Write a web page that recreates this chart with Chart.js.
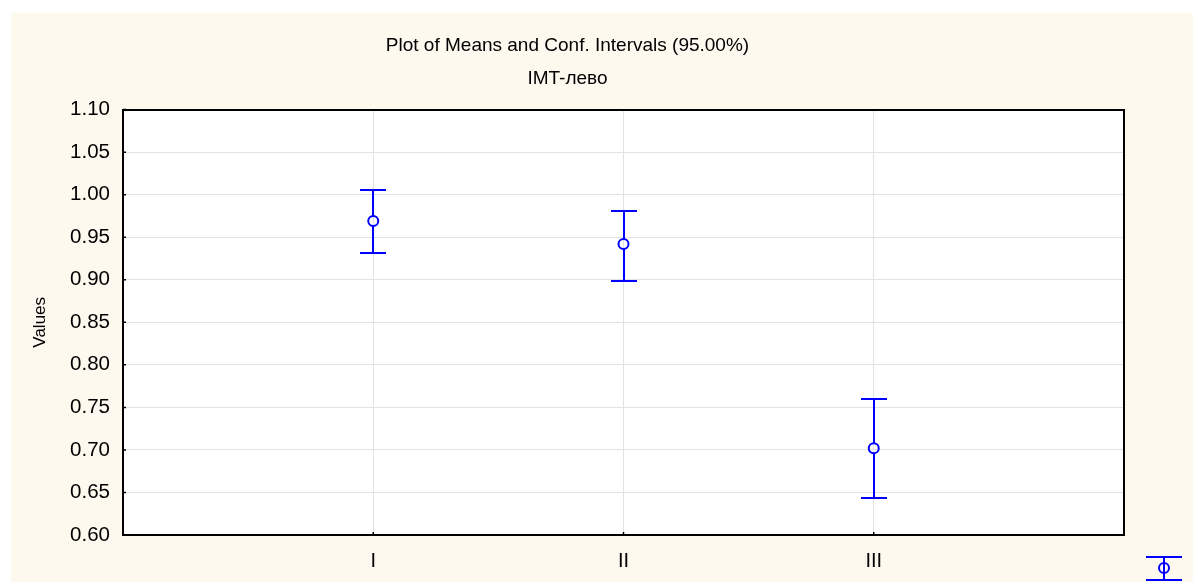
<!DOCTYPE html>
<html>
<head>
<meta charset="utf-8">
<script src="https://cdn.jsdelivr.net/npm/chart.js@4.4.0/dist/chart.umd.min.js"></script>
<style>
  html, body { margin: 0; padding: 0; background: #ffffff; }
  #wrap {
    position: absolute; left: 11px; top: 13px;
    width: 1182px; height: 569px;
    background: #fdf9ef;
  }
  canvas { display: block; }
</style>
</head>
<body>
<div id="wrap"><canvas id="meansChart" width="1182" height="569"></canvas></div>
<script>
// groups and their means with 95% confidence limits
const categories = ['I', 'II', 'III'];
const means = [0.969, 0.942, 0.702];
const lower = [0.931, 0.899, 0.6435];
const upper = [1.006, 0.981, 0.760];
const yTicks = [0.60, 0.65, 0.70, 0.75, 0.80, 0.85, 0.90, 0.95, 1.00, 1.05, 1.10];

const BLUE = '#0000ff';
const FONT = 'Liberation Sans, Arial, sans-serif';

// white plot area, black frame, whiskers and legend key
const errorBars = {
  id: 'errorBars',
  beforeDraw(chart) {
    const { ctx, chartArea: a } = chart;
    ctx.save();
    ctx.fillStyle = '#ffffff';
    ctx.fillRect(a.left, a.top, a.right - a.left, a.bottom - a.top);
    ctx.restore();
  },
  afterDatasetsDraw(chart) {
    const { ctx, scales } = chart;
    const xs = scales.x, ys = scales.y;
    ctx.save();
    ctx.strokeStyle = BLUE;
    ctx.lineWidth = 2;
    categories.forEach((c, i) => {
      const x = Math.round(xs.getPixelForValue(i + 1));
      const yl = Math.round(ys.getPixelForValue(lower[i]));
      const yu = Math.round(ys.getPixelForValue(upper[i]));
      const ym = ys.getPixelForValue(means[i]);
      ctx.beginPath();
      ctx.moveTo(x, yu); ctx.lineTo(x, ym - 5);
      ctx.moveTo(x, ym + 5); ctx.lineTo(x, yl);
      ctx.moveTo(x - 13, yu); ctx.lineTo(x + 13, yu);
      ctx.moveTo(x - 13, yl); ctx.lineTo(x + 13, yl);
      ctx.stroke();
    });
    ctx.restore();
  },
  afterDraw(chart) {
    const { ctx, chartArea: a, scales } = chart;
    ctx.save();
    ctx.strokeStyle = '#000000';
    ctx.lineWidth = 2;
    ctx.strokeRect(Math.round(a.left), Math.round(a.top),
      Math.round(a.right - a.left), Math.round(a.bottom - a.top));
    // short inner tick marks
    ctx.lineWidth = 1.5;
    ctx.beginPath();
    yTicks.forEach(v => {
      const y = scales.y.getPixelForValue(v);
      ctx.moveTo(a.left, y); ctx.lineTo(a.left + 3, y);
    });
    categories.forEach((c, i) => {
      const x = scales.x.getPixelForValue(i + 1);
      ctx.moveTo(x, a.bottom); ctx.lineTo(x, a.bottom - 3);
    });
    ctx.stroke();
    // legend key
    const lx = Math.round(a.right + 40), ly = Math.round(a.bottom + 33);
    ctx.strokeStyle = BLUE;
    ctx.lineWidth = 2;
    ctx.beginPath();
    ctx.moveTo(lx - 18, ly - 11); ctx.lineTo(lx + 18, ly - 11);
    ctx.moveTo(lx - 18, ly + 12); ctx.lineTo(lx + 18, ly + 12);
    ctx.moveTo(lx, ly - 11); ctx.lineTo(lx, ly + 12);
    ctx.stroke();
    ctx.beginPath();
    ctx.arc(lx, ly, 5, 0, Math.PI * 2);
    ctx.stroke();
    ctx.restore();
  }
};

new Chart(document.getElementById('meansChart').getContext('2d'), {
  type: 'scatter',
  data: {
    datasets: [{
      data: means.map((m, i) => ({ x: i + 1, y: m })),
      pointStyle: 'circle',
      pointRadius: 5,
      pointHoverRadius: 5,
      borderColor: BLUE,
      backgroundColor: 'rgba(0,0,0,0)',
      pointBorderWidth: 2
    }]
  },
  options: {
    responsive: false,
    animation: false,
    events: [],
    layout: { padding: { left: 0, right: 69, top: 0, bottom: 0 } },
    plugins: {
      legend: { display: false },
      tooltip: { enabled: false },
      title: {
        display: true,
        text: 'Plot of Means and Conf. Intervals (95.00%)',
        color: '#000000',
        font: { family: FONT, size: 19, weight: 'normal' },
        padding: { top: 21, bottom: 5 }
      },
      subtitle: {
        display: true,
        text: 'IMT-лево',
        color: '#000000',
        font: { family: FONT, size: 19, weight: 'normal' },
        padding: { top: 6, bottom: 19 }
      }
    },
    scales: {
      x: {
        type: 'linear',
        min: 0,
        max: 4,
        afterBuildTicks(scale) {
          scale.ticks = categories.map((c, i) => ({ value: i + 1 }));
        },
        afterFit(scale) { scale.height = 47; },
        ticks: {
          color: '#000000',
          font: { family: FONT, size: 20 },
          padding: 14,
          maxRotation: 0,
          callback: v => categories[v - 1] || ''
        },
        grid: { color: '#e2e2e2', lineWidth: 1, drawTicks: false },
        border: { display: false }
      },
      y: {
        min: 0.6,
        max: 1.1,
        afterBuildTicks(scale) {
          scale.ticks = yTicks.map(v => ({ value: v }));
        },
        afterFit(scale) { scale.width = 112; },
        ticks: {
          color: '#000000',
          font: { family: FONT, size: 20.5 },
          padding: 13,
          callback: v => v.toFixed(2)
        },
        grid: { color: '#e2e2e2', lineWidth: 1, drawTicks: false },
        border: { display: false },
        title: {
          display: true,
          text: 'Values',
          color: '#000000',
          font: { family: FONT, size: 17 },
          padding: { top: 19, bottom: 0 }
        }
      }
    }
  },
  plugins: [errorBars]
});
</script>
</body>
</html>
